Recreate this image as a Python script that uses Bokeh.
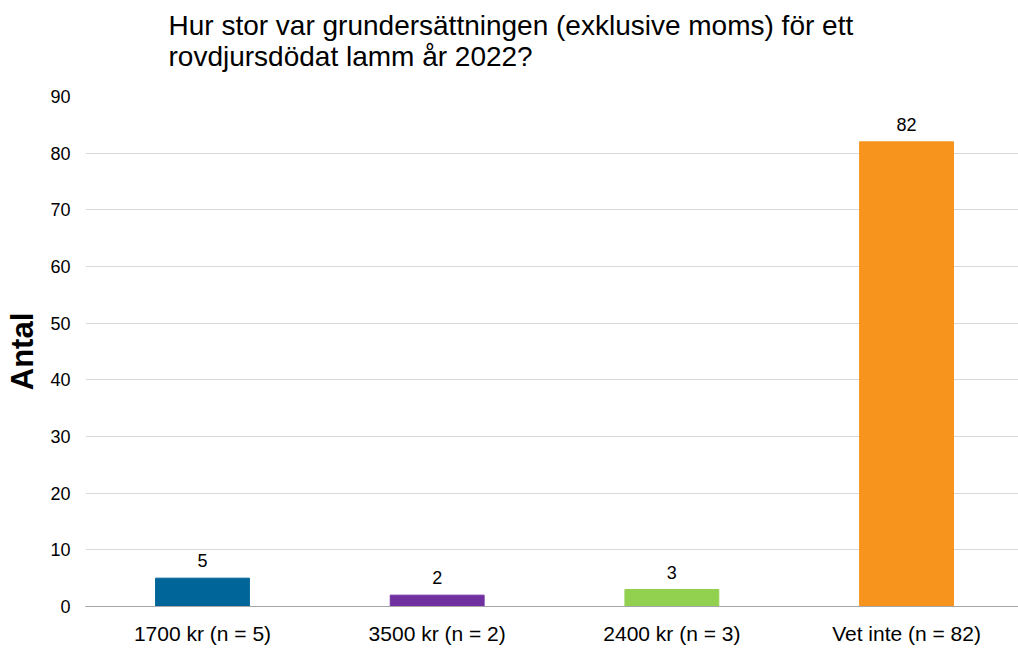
from bokeh.plotting import figure
from bokeh.models import ColumnDataSource, FixedTicker, Range1d, LabelSet, Title
from bokeh.core.properties import value
from bokeh.embed import file_html
from bokeh.resources import INLINE

categories = ["1700 kr (n = 5)", "3500 kr (n = 2)", "2400 kr (n = 3)", "Vet inte (n = 82)"]
values = [5, 2, 3, 82]
colors = ["#006699", "#7030A0", "#92D050", "#F7941D"]
y_ticks = [0, 10, 20, 30, 40, 50, 60, 70, 80, 90]

xs = list(range(len(categories)))
src = ColumnDataSource(dict(x=xs, top=values, color=colors, label=[str(v) for v in values]))

FONT = "Liberation Sans"

p = figure(width=1018, height=649, output_backend="svg", toolbar_location=None,
           x_range=Range1d(-0.4985, 3.477), y_range=Range1d(0, 90),
           min_border_left=85, min_border_right=0, min_border_top=96, min_border_bottom=43)

# spacer between the title and the plot area
p.add_layout(Title(text=" ", text_font_size="14px", standoff=2), "above")

p.title.text = "Hur stor var grundersättningen (exklusive moms) för ett\nrovdjursdödat lamm år 2022?"
p.title.text_font = FONT
p.title.text_font_size = "28px"
p.title.text_font_style = "normal"
p.title.align = "left"
p.title.offset = 83
p.title.vertical_align = "top"
p.title.standoff = 5
p.title.text_color = "#000000"

p.vbar(x="x", top="top", width=0.4, color="color", source=src)

labels = LabelSet(x="x", y="top", text="label", source=src, text_align="center",
                  text_baseline="alphabetic", y_offset=11,
                  text_font=value(FONT), text_font_size=value("18px"),
                  text_color="#000000")
p.add_layout(labels)

p.outline_line_color = None
p.xgrid.grid_line_color = None
p.ygrid.grid_line_color = "#D9D9D9"
p.ygrid.ticker = FixedTicker(ticks=y_ticks)

p.yaxis.ticker = FixedTicker(ticks=y_ticks)
p.yaxis.axis_line_color = None
p.yaxis.major_tick_line_color = None
p.yaxis.minor_tick_line_color = None
p.yaxis.major_tick_out = 0
p.yaxis.major_tick_in = 0
p.yaxis.minor_tick_out = 0
p.yaxis.major_label_text_font = FONT
p.yaxis.major_label_text_font_size = "18px"
p.yaxis.major_label_text_color = "#000000"
p.yaxis.major_label_standoff = 15
p.yaxis.axis_label = "Antal"
p.yaxis.axis_label_text_font = FONT
p.yaxis.axis_label_text_font_size = "31px"
p.yaxis.axis_label_text_font_style = "bold"
p.yaxis.axis_label_text_color = "#000000"
p.yaxis.axis_label_standoff = 7

p.xaxis.ticker = FixedTicker(ticks=xs)
p.xaxis.major_label_overrides = {i: c for i, c in zip(xs, categories)}
p.xaxis.axis_line_color = "#A6A6A6"
p.xaxis.major_tick_line_color = None
p.xaxis.minor_tick_line_color = None
p.xaxis.major_tick_out = 0
p.xaxis.major_tick_in = 0
p.xaxis.minor_tick_out = 0
p.xaxis.major_label_text_font = FONT
p.xaxis.major_label_text_font_size = "21px"
p.xaxis.major_label_text_color = "#000000"
p.xaxis.major_label_standoff = 15

open("out.html", "w").write(file_html(p, INLINE))
